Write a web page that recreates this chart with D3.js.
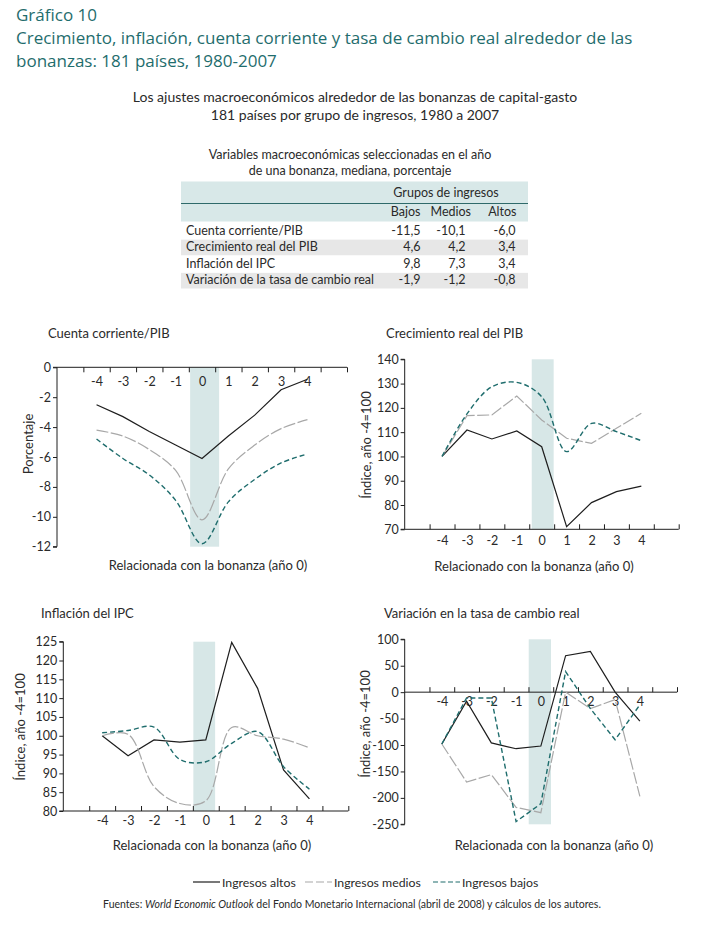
<!DOCTYPE html>
<html>
<head>
<meta charset="utf-8">
<script src="https://cdn.jsdelivr.net/npm/d3@7"></script>
<style>
  body { margin: 0; background: #fff; }
  svg { display: block; }
  text { font-family: Lato, "Open Sans", sans-serif; fill: #2a2a2a; }
</style>
</head>
<body>
<svg id="chart" width="714" height="932"></svg>
<script>
// ---- data ----
const years = [-4, -3, -2, -1, 0, 1, 2, 3, 4];
const seriesNames = ["Ingresos altos", "Ingresos medios", "Ingresos bajos"];

const cuentaAltos = [-2.5, -3.3, -4.3, -5.2, -6.1, -4.6, -3.2, -1.5, -0.8];
const cuentaMedios = [-4.2, -4.6, -5.5, -6.9, -10.2, -6.8, -5.2, -4.1, -3.5];
const cuentaBajos = [-4.8, -6.1, -7.2, -8.9, -11.8, -9.0, -7.5, -6.4, -5.8];

const pibAltos = [100, 110.9, 107.2, 110.5, 104, 71.1, 81.0, 85.5, 87.8];
const pibMedios = [100, 116.8, 117.1, 124.9, 115, 107.5, 105.4, 111.6, 117.8];
const pibBajos = [100, 117.5, 128.7, 130.5, 124.6, 102, 113.6, 110.2, 106.5];

const ipcAltos = [100, 94.7, 98.9, 98.3, 98.9, 124.8, 112.6, 90.9, 83.2];
const ipcMedios = [100, 100.4, 86.5, 82.0, 82.7, 102.2, 100, 99.1, 96.8];
const ipcBajos = [100.8, 101.4, 102.3, 93.7, 93.1, 98, 101.1, 91.8, 85.8];

const tcrAltos = [-98, -17, -96, -107, -102, 69, 77, 0, -55];
const tcrMedios = [-98, -170, -156, -218, -228, 0, -31, -14, -197];
const tcrBajos = [-98, -11, -11, -245, -211, 39, -31, -90, -24];

const cuentaTicks = [0, -2, -4, -6, -8, -10, -12];
const pibTicks = [70, 80, 90, 100, 110, 120, 130, 140];
const ipcTicks = [80, 85, 90, 95, 100, 105, 110, 115, 120, 125];
const tcrTicks = [100, 50, 0, -50, -100, -150, -200, -250];

const tableCols = ["Bajos", "Medios", "Altos"];
const tableRows = ["Cuenta corriente/PIB", "Crecimiento real del PIB", "Inflación del IPC", "Variación de la tasa de cambio real"];
const tableValues = [
  [-11.5, -10.1, -6.0],
  [4.6, 4.2, 3.4],
  [9.8, 7.3, 3.4],
  [-1.9, -1.2, -0.8]
];

// ---- styles ----
const TEAL = "#1f6d6d";
const lineStyles = [
  { stroke: "#1e1e1e", width: 1.2, dash: null },
  { stroke: "#a8a8a8", width: 1.2, dash: "12,2.5" },
  { stroke: TEAL, width: 1.4, dash: "5,3" }
];
const legendDash = [null, "8,3", "5,2.5"];

const locale = d3.formatLocale({ decimal: ",", thousands: ".", grouping: [3], currency: ["", ""], minus: "-" });
const fmt1 = locale.format(".1f");
const fmt0 = locale.format("d");

const svg = d3.select("#chart");

// ---- headings ----
const heading = ["Gráfico 10",
  "Crecimiento, inflación, cuenta corriente y tasa de cambio real alrededor de las",
  "bonanzas: 181 países, 1980-2007"];
svg.selectAll(".heading").data(heading).join("text")
  .attr("class", "heading")
  .attr("x", 16).attr("y", (d, i) => 20.7 + i * 23)
  .style("font-family", "'Open Sans', sans-serif")
  .style("font-size", "17px").style("fill", TEAL)
  .text(d => d);

const sub = ["Los ajustes macroeconómicos alrededor de las bonanzas de capital-gasto",
  "181 países por grupo de ingresos, 1980 a 2007"];
svg.selectAll(".sub").data(sub).join("text")
  .attr("class", "sub")
  .attr("x", 355).attr("y", (d, i) => 102 + i * 17.5)
  .attr("text-anchor", "middle")
  .style("font-size", "14px")
  .text(d => d);

// ---- table ----
const table = svg.append("g");
const tTitle = ["Variables macroeconómicas seleccionadas en el año", "de una bonanza, mediana, porcentaje"];
table.selectAll(".tt").data(tTitle).join("text")
  .attr("x", 350).attr("y", (d, i) => 159 + i * 16)
  .attr("text-anchor", "middle").style("font-size", "12.5px")
  .text(d => d);

table.append("rect").attr("x", 181).attr("y", 181.5).attr("width", 347).attr("height", 40).attr("fill", "#d8e8e8");
table.append("line").attr("x1", 181).attr("x2", 528).attr("y1", 203.5).attr("y2", 203.5)
  .attr("stroke", "#2f6a6a").attr("stroke-width", 1);
table.append("text").attr("x", 446).attr("y", 197).attr("text-anchor", "middle")
  .style("font-size", "12.5px").text("Grupos de ingresos");

const colRight = [420.5, 471, 516.5];
const numRight = [420.5, 465.5, 515.5];
table.selectAll(".th").data(tableCols).join("text")
  .attr("x", (d, i) => colRight[i]).attr("y", 216)
  .attr("text-anchor", "end").style("font-size", "12.5px").text(d => d);

const rowY = d3.scaleBand().domain(d3.range(tableRows.length)).range([222, 288.5]);
const rows = table.selectAll(".row").data(tableRows).join("g")
  .attr("transform", (d, i) => `translate(0,${rowY(i)})`);
rows.filter((d, i) => i % 2 === 1).append("rect")
  .attr("x", 181).attr("y", 1).attr("width", 347).attr("height", rowY.bandwidth() - 1)
  .attr("fill", "#e7e7e7");
rows.append("text").attr("x", 186).attr("y", 12.5).style("font-size", "12.5px").text(d => d);
rows.selectAll(".v").data((d, i) => tableValues[i]).join("text")
  .attr("x", (d, j) => numRight[j]).attr("y", 12.5)
  .attr("text-anchor", "end").style("font-size", "12.5px")
  .text(d => fmt1(d));

// ---- panels ----
const panels = [
  { title: "Cuenta corriente/PIB", tx: 48, ty: 338,
    x0: 57, x1: 347, yTop: 367.3, yBot: 546.7, domain: [-12, 0], ticks: cuentaTicks, axisAt: 0,
    tickUp: false, pad: 10, shade: [-0.45, 0.65],
    yLabel: "Porcentaje", ylx: 32.5, yly: 444,
    xLabel: "Relacionada con la bonanza (año 0)", xlx: 208, xly: 570,
    series: [cuentaAltos, cuentaMedios, cuentaBajos], curves: [d3.curveLinear, d3.curveCatmullRom, d3.curveCatmullRom] },
  { title: "Crecimiento real del PIB", tx: 386, ty: 338,
    x0: 404.7, x1: 678.7, yTop: 359.3, yBot: 529.3, domain: [70, 140], ticks: pibTicks, axisAt: 70,
    tickUp: true, pad: 6.5, shade: [-0.4, 0.48],
    yLabel: "Índice, año -4=100", ylx: 371, yly: 445,
    xLabel: "Relacionado con la bonanza (año 0)", xlx: 534, xly: 571,
    series: [pibAltos, pibMedios, pibBajos], curves: [d3.curveLinear, d3.curveLinear, d3.curveCatmullRom] },
  { title: "Inflación del IPC", tx: 41, ty: 618,
    x0: 63.3, x1: 348.3, yTop: 641.7, yBot: 811, domain: [80, 125], ticks: ipcTicks, axisAt: 80,
    tickUp: true, pad: 5, shade: [-0.48, 0.36],
    yLabel: "Índice, año -4=100", ylx: 25, yly: 727,
    xLabel: "Relacionada con la bonanza (año 0)", xlx: 212, xly: 850,
    series: [ipcAltos, ipcMedios, ipcBajos], curves: [d3.curveLinear, d3.curveCatmullRom, d3.curveCatmullRom] },
  { title: "Variación en la tasa de cambio real", tx: 384, ty: 618,
    x0: 404.7, x1: 677, yTop: 639.3, yBot: 824.3, domain: [-250, 100], ticks: tcrTicks, axisAt: 0,
    tickUp: true, pad: 4.5, shade: [-0.49, 0.41],
    yLabel: "Índice, año -4=100", ylx: 370, yly: 724,
    xLabel: "Relacionada con la bonanza (año 0)", xlx: 554, xly: 850,
    series: [tcrAltos, tcrMedios, tcrBajos], curves: [d3.curveLinear, d3.curveLinear, d3.curveLinear] }
];

// slots between categories, one empty slot on each side
const slotEdges = d3.range(-4.5, 6, 1);

panels.forEach(p => {
  const g = svg.append("g");
  const x = d3.scaleLinear().domain([-5.5, 5.5]).range([p.x0, p.x1]);
  const y = d3.scaleLinear().domain(p.domain).range([p.yBot, p.yTop]);

  g.append("rect")
    .attr("x", x(p.shade[0])).attr("width", x(p.shade[1]) - x(p.shade[0]))
    .attr("y", p.yTop).attr("height", p.yBot - p.yTop)
    .attr("fill", "#d7e7e7");

  // y axis
  const ya = g.append("g").attr("transform", `translate(${p.x0},0)`)
    .call(d3.axisLeft(y).tickValues(p.ticks).tickSize(4).tickPadding(2).tickFormat(fmt0));
  ya.select(".domain").attr("d", `M-4,${p.yTop}H0V${p.yBot}H-4`);

  // x axis: tick marks between categories, labels on categories
  const ay = y(p.axisAt);
  const tickAxis = p.tickUp ? d3.axisTop(x) : d3.axisBottom(x);
  const xa = g.append("g").attr("transform", `translate(0,${ay})`)
    .call(tickAxis.tickValues(slotEdges).tickSize(5).tickFormat(""));
  xa.select(".domain").attr("d", `M${p.x0},0H${p.x1}`);
  g.append("g").attr("transform", `translate(0,${ay})`)
    .call(d3.axisBottom(x).tickValues(years).tickSize(0).tickPadding(p.pad).tickFormat(fmt0))
    .select(".domain").remove();

  g.selectAll(".domain, .tick line").attr("stroke", "#1e1e1e").attr("stroke-width", 1);
  g.selectAll(".tick text").style("font-size", "12.5px").style("font-family", "Lato, sans-serif").attr("fill", "#2a2a2a");

  // lines
  p.series.forEach((vals, k) => {
    const st = lineStyles[k];
    const line = d3.line().x((d, i) => x(years[i])).y(d => y(d)).curve(p.curves[k]);
    g.append("path").datum(vals)
      .attr("d", line)
      .attr("fill", "none")
      .attr("stroke", st.stroke)
      .attr("stroke-width", st.width)
      .attr("stroke-dasharray", st.dash);
  });

  g.append("text").attr("x", p.tx).attr("y", p.ty).style("font-size", "13px").text(p.title);
  g.append("text").attr("transform", `translate(${p.ylx},${p.yly}) rotate(-90)`)
    .attr("text-anchor", "middle").style("font-size", "13px").text(p.yLabel);
  g.append("text").attr("x", p.xlx).attr("y", p.xly)
    .attr("text-anchor", "middle").style("font-size", "13px").text(p.xLabel);
});

// ---- legend ----
const legX = [193, 305, 433];
const leg = svg.selectAll(".leg").data(seriesNames).join("g")
  .attr("transform", (d, i) => `translate(${legX[i]},882)`);
leg.append("line").attr("x1", 0).attr("x2", 27).attr("y1", 0).attr("y2", 0)
  .attr("stroke", (d, i) => lineStyles[i].stroke)
  .attr("stroke-width", 1.2)
  .attr("stroke-dasharray", (d, i) => legendDash[i]);
leg.append("text").attr("x", 29).attr("y", 4.5).style("font-size", "12.3px").text(d => d);

// ---- source ----
const src = svg.append("text").attr("x", 352).attr("y", 908).attr("text-anchor", "middle")
  .style("font-size", "10.5px");
src.append("tspan").text("Fuentes: ");
src.append("tspan").style("font-style", "italic").text("World Economic Outlook");
src.append("tspan").text(" del Fondo Monetario Internacional (abril de 2008) y cálculos de los autores.");
</script>
</body>
</html>
